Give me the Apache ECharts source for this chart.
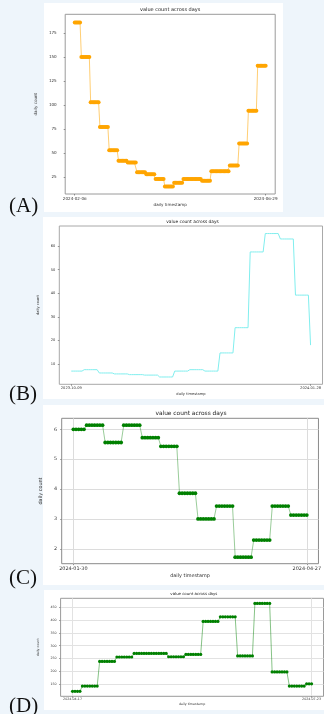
<!DOCTYPE html>
<html><head><meta charset="utf-8">
<script src="https://cdn.jsdelivr.net/npm/echarts@6/dist/echarts.min.js"></script>
<style>
html,body{margin:0;padding:0;background:#eef5fb;width:324px;height:714px;overflow:hidden;}
.card{position:absolute;background:#ffffff;}
#chart{position:absolute;left:0;top:0;width:324px;height:714px;}
</style></head><body>
<div class="card" style="left:44px;top:3px;width:239px;height:209px"></div>
<div class="card" style="left:43px;top:217px;width:281px;height:182px"></div>
<div class="card" style="left:43px;top:405px;width:281px;height:179.5px"></div>
<div class="card" style="left:44px;top:590px;width:280px;height:119.5px"></div>
<div id="chart"></div>
<script>
// ---- Panel A (weekly values repeated daily) ----
const aDateLabels = ['2024-02-06', '2024-06-29'];
const aWeekValues = [186, 150, 103, 77, 53, 42, 40, 30, 28, 23, 15, 19, 23, 23, 21, 31, 31, 37, 60, 94, 141];
const aWeekDays   = [5, 7, 7, 7, 7, 7, 7, 7, 7, 7, 7, 7, 7, 7, 7, 7, 7, 7, 7, 7, 7];
const aYTicks = [25, 50, 75, 100, 125, 150, 175];

// ---- Panel B ----
const bDateLabels = ['2023-10-09', '2024-01-28'];
const bWeekValues = [7.0, 7.6, 6.2, 5.8, 5.5, 5.3, 4.5, 7.0, 7.6, 7.0, 14.7, 25.4, 57.5, 65.3, 63.0, 39.2, 18.0];
const bWeekDays   = [6, 7, 7, 7, 7, 7, 7, 7, 7, 7, 7, 7, 7, 7, 7, 7, 1];
const bYTicks = [10, 20, 30, 40, 50, 60];

// ---- Panel C ----
const cDateLabels = ['2024-01-30', '2024-04-27'];
const cWeekValues = [6.0, 6.14, 5.56, 6.14, 5.72, 5.43, 3.86, 3.0, 3.43, 1.72, 2.29, 3.43, 3.13];
const cWeekDays   = [5, 7, 7, 7, 7, 7, 7, 7, 7, 7, 7, 7, 7];
const cYTicks = [2, 3, 4, 5, 6];

// ---- Panel D ----
const dDateLabels = ['2024-04-17', '2024-07-23'];
const dWeekValues = [123, 143, 239, 256, 270, 270, 257, 266, 394, 412, 260, 464, 198, 143, 152];
const dWeekDays   = [4, 7, 7, 7, 7, 7, 7, 7, 7, 7, 7, 7, 7, 7, 3];
const dYTicks = [150, 200, 250, 300, 350, 400, 450];

const panelLetters = ['(A)', '(B)', '(C)', '(D)'];
const titleText = 'value count across days';
const xName = 'daily timestamp';
const yName = 'daily count';

function expand(values, days) {
  const out = [];
  let d = 0;
  values.forEach((v, i) => {
    for (let k = 0; k < days[i]; k++) { out.push([d, v]); d++; }
  });
  return out;
}

const FONT = 'DejaVu Sans';
const panels = [
  { data: expand(aWeekValues, aWeekDays), labels: aDateLabels, yTicks: aYTicks,
    grid: {left: 65.2, top: 14.3, width: 210, height: 179.7}, ymin: 7.3, ymax: 194.5,
    fs: 4.1, tfs: 5, frame: '#9a9a9a', split: false, ylm: 8.5, xlm: 3, xng: 9, yng: 12.5,
    series: {symbol: 'circle', symbolSize: 4, color: '#ffa500', line: 'rgba(255,165,0,0.55)', lw: 1} },
  { data: expand(bWeekValues, bWeekDays), labels: bDateLabels, yTicks: bYTicks,
    grid: {left: 59.3, top: 226, width: 266.5, height: 158.3}, ymin: 1.4, ymax: 68.5,
    fs: 3.6, tfs: 4.36, frame: '#a8a8a8', split: false, ylm: 4, xlm: 2, xng: 8, yng: 9,
    series: {symbol: 'none', symbolSize: 0, color: '#80eeee', line: '#80eeee', lw: 1} },
  { data: expand(cWeekValues, cWeekDays), labels: cDateLabels, yTicks: cYTicks,
    grid: {left: 61.7, top: 418.3, width: 258.5, height: 145.4}, ymin: 1.5, ymax: 6.37,
    fs: 4.9, tfs: 5.9, frame: '#8a8a8a', split: true, splitColor: '#dcdcdc', ylm: 4.5, xlm: 3, xng: 10, yng: 9.5,
    series: {symbol: 'circle', symbolSize: 3.8, color: '#008000', line: 'rgba(0,128,0,0.5)', lw: 0.8} },
  { data: expand(dWeekValues, dWeekDays), labels: dDateLabels, yTicks: dYTicks,
    grid: {left: 60.6, top: 598.3, width: 266.5, height: 98}, ymin: 103.5, ymax: 483.8,
    fs: 3.25, tfs: 3.9, frame: '#9a9a9a', split: true, splitColor: '#e2e2e2', ylm: 4, xlm: 1.5, xng: 6.5, yng: 9.8,
    series: {symbol: 'circle', symbolSize: 3.2, color: '#008000', line: 'rgba(0,128,0,0.6)', lw: 0.8} }
];

const letterPos = [206, 394, 578, 706];

const option = {
  animation: false,
  grid: [], xAxis: [], yAxis: [], series: [], graphic: []
};

panels.forEach((p, i) => {
  const n = p.data.length - 1;
  const pad = n * 0.05;
  option.grid.push(Object.assign({show: true, borderColor: p.frame, borderWidth: 1, backgroundColor: 'transparent', containLabel: false}, p.grid));
  option.xAxis.push({
    type: 'value', gridIndex: i, min: -pad, max: n + pad,
    name: xName, nameLocation: 'middle', nameGap: p.xng,
    nameTextStyle: {fontSize: p.fs, fontFamily: FONT, color: '#333'},
    axisLine: {show: false, onZero: false},
    axisTick: {show: true, length: 1.5, customValues: [0, n], lineStyle: {color: '#555', width: 0.6}},
    axisLabel: {show: true, customValues: [0, n], margin: p.xlm, fontSize: p.fs, fontFamily: FONT, color: '#333',
      formatter: v => (v === 0 ? p.labels[0] : p.labels[1])},
    splitLine: {show: p.split, lineStyle: {color: p.splitColor || '#ddd', width: 1}}
  });
  option.yAxis.push({
    type: 'value', gridIndex: i, min: p.ymin, max: p.ymax,
    name: yName, nameLocation: 'middle', nameGap: p.yng,
    nameTextStyle: {fontSize: p.fs, fontFamily: FONT, color: '#333'},
    axisLine: {show: false, onZero: false},
    axisTick: {show: true, length: 1.5, customValues: p.yTicks, lineStyle: {color: '#555', width: 0.6}},
    axisLabel: {show: true, customValues: p.yTicks, margin: p.ylm, fontSize: p.fs, fontFamily: FONT, color: '#333'},
    splitLine: {show: p.split, lineStyle: {color: p.splitColor || '#ddd', width: 1}}
  });
  option.series.push({
    type: 'line', xAxisIndex: i, yAxisIndex: i, data: p.data,
    symbol: p.series.symbol, symbolSize: p.series.symbolSize, showSymbol: p.series.symbol !== 'none',
    itemStyle: {color: p.series.color},
    lineStyle: {color: p.series.line, width: p.series.lw},
    emphasis: {disabled: true}, silent: true, z: 3
  });
  option.graphic.push({
    type: 'text', x: p.grid.left + p.grid.width / 2, y: p.grid.top - 4.2 + (i === 2 ? -0.8 : 0),
    style: {text: titleText, fontSize: p.tfs, fontFamily: FONT, fill: '#222', align: 'center', verticalAlign: 'middle'}
  });
  option.graphic.push({
    type: 'text', x: 9, y: letterPos[i],
    style: {text: panelLetters[i], fontSize: 21, fontFamily: 'Liberation Serif', fill: '#111', align: 'left', verticalAlign: 'middle'}
  });
});

const chart = echarts.init(document.getElementById('chart'), null, {renderer: 'canvas'});
chart.setOption(option);
</script>
</body></html>
